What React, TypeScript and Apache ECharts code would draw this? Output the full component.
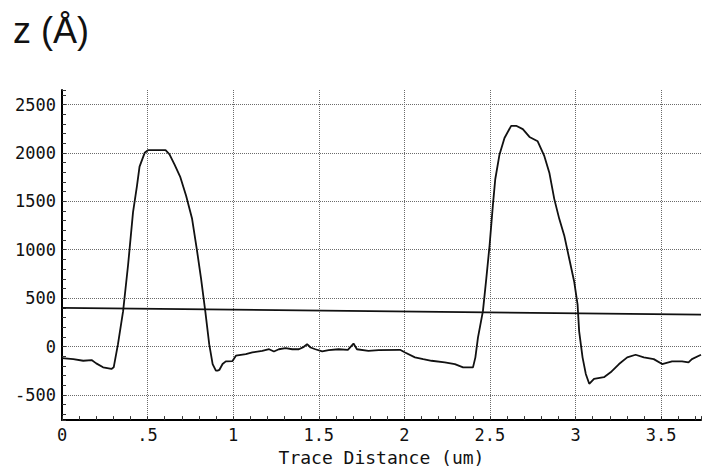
import React, { useEffect, useRef } from "react";
import * as echarts from "echarts";

const titleText = "z (Å)";
const xAxisName = "Trace Distance (um)";

const traceX = [
  0.0, 0.066, 0.124, 0.173, 0.2, 0.24, 0.289, 0.302, 0.327, 0.357, 0.386, 0.415, 0.438, 0.453, 0.483, 0.502,
  0.605, 0.628, 0.657, 0.69, 0.725, 0.76, 0.787, 0.812, 0.837, 0.86, 0.88, 0.899, 0.909, 0.919, 0.938, 0.957,
  0.996, 1.016, 1.074, 1.112, 1.17, 1.21, 1.238, 1.267, 1.306, 1.345, 1.384, 1.413, 1.432, 1.452, 1.48, 1.52,
  1.558, 1.616, 1.67, 1.703, 1.723, 1.79, 1.85, 1.975, 2.004, 2.062, 2.11, 2.159, 2.236, 2.295, 2.343, 2.401,
  2.415, 2.43, 2.459, 2.479, 2.498, 2.517, 2.531, 2.556, 2.585, 2.624, 2.653, 2.692, 2.731, 2.779, 2.818, 2.847,
  2.876, 2.905, 2.934, 2.963, 2.992, 3.012, 3.021, 3.041, 3.06, 3.08, 3.108, 3.166, 3.205, 3.254, 3.302, 3.351,
  3.399, 3.457, 3.506, 3.564, 3.622, 3.66, 3.68, 3.733,
];
const traceZ = [
  -119, -130, -147, -140, -174, -215, -232, -215, 24, 365, 842, 1388, 1660, 1858, 2001, 2028,
  2028, 1984, 1881, 1756, 1557, 1319, 1012, 706, 365, 24, -181, -249, -249, -242, -181, -153,
  -150, -95, -79, -61, -44, -28, -51, -28, -17, -28, -28, -3, 24, -10, -28, -51,
  -38, -28, -34, 31, -28, -44, -38, -34, -61, -112, -130, -147, -164, -181, -215, -215,
  -112, 92, 365, 706, 1046, 1455, 1728, 1984, 2154, 2280, 2280, 2246, 2165, 2120, 1966, 1796,
  1523, 1319, 1148, 910, 672, 433, 160, -112, -283, -385, -334, -317, -266, -181, -112, -85,
  -112, -130, -181, -153, -153, -164, -130, -85,
];

const cursorX = [0, 3.733];
const cursorZ = [400, 330];

const xMin = 0;
const xMax = 3.733;
const yMin = -760;
const yMax = 2650;
const xLabelStep = 0.5;
const yLabelStep = 500;

const monoFont = "'DejaVu Sans Mono', 'Liberation Mono', monospace";

export default function App() {
  const ref = useRef<HTMLDivElement>(null);

  useEffect(() => {
    if (!ref.current) return;
    const chart = echarts.init(ref.current, null, { renderer: "svg" });
    const gridLine = { show: true, showMinLine: false, showMaxLine: false, lineStyle: { color: "#6a6a6a", width: 1, type: [1, 1] } };
    chart.setOption({
      animation: false,
      backgroundColor: "#ffffff",
      title: {
        text: titleText,
        left: 8,
        top: 7,
        textStyle: { fontFamily: "'Liberation Sans', Arial, sans-serif", fontSize: 36, fontWeight: "normal", color: "#111" },
      },
      grid: { left: 62, right: 0, top: 90, bottom: 48, containLabel: false },
      xAxis: {
        type: "value",
        min: xMin,
        max: xMax,
        splitNumber: 7,
        name: xAxisName,
        nameLocation: "middle",
        nameGap: 27,
        nameTextStyle: { fontFamily: monoFont, fontSize: 18, color: "#111" },
        axisLine: { show: true, onZero: false, lineStyle: { color: "#000", width: 2 } },
        axisTick: { show: true, inside: true, length: 4, lineStyle: { color: "#333", width: 1 } },
        minorTick: { show: true, splitNumber: 5, length: 4, lineStyle: { color: "#333", width: 1 } },
        splitLine: gridLine,
        axisLabel: {
          margin: 6,
          fontFamily: monoFont,
          fontSize: 17,
          color: "#111",
          formatter: (v: number) => {
            if (Math.abs(v / xLabelStep - Math.round(v / xLabelStep)) > 1e-6) return "";
            if (v === 0) return "0";
            return String(v).replace(/^0\./, ".");
          },
        },
      },
      yAxis: {
        type: "value",
        min: yMin,
        max: yMax,
        splitNumber: 7,
        axisLine: { show: true, onZero: false, lineStyle: { color: "#000", width: 2 } },
        axisTick: { show: true, inside: true, length: 4, lineStyle: { color: "#333", width: 1 } },
        minorTick: { show: true, splitNumber: 5, length: 4, lineStyle: { color: "#333", width: 1 } },
        splitLine: gridLine,
        axisLabel: {
          margin: 6,
          fontFamily: monoFont,
          fontSize: 17,
          color: "#111",
          formatter: (v: number) => (v % yLabelStep === 0 ? String(v) : ""),
        },
      },
      series: [
        {
          type: "line",
          data: traceX.map((x, i) => [x, traceZ[i]]),
          showSymbol: false,
          lineStyle: { color: "#111", width: 1.8 },
          z: 3,
        },
        {
          type: "line",
          data: cursorX.map((x, i) => [x, cursorZ[i]]),
          showSymbol: false,
          lineStyle: { color: "#111", width: 1.8 },
          z: 2,
        },
      ],
    });
    return () => chart.dispose();
  }, []);

  return <div ref={ref} style={{ width: 704, height: 471, position: "absolute", left: 0, top: 0 }} />;
}
